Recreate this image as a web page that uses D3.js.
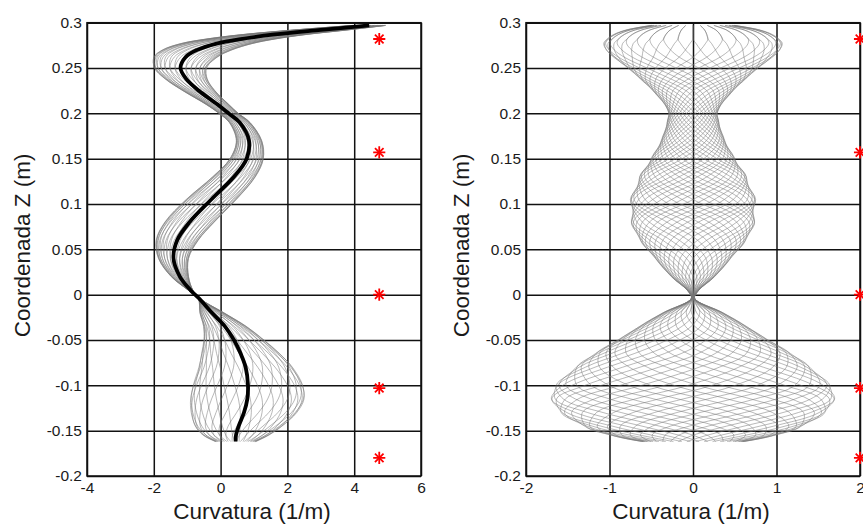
<!DOCTYPE html>
<html>
<head>
<meta charset="utf-8">
<script src="https://cdn.jsdelivr.net/npm/d3@7"></script>
<style>
  body { margin: 0; background: #fff; }
  svg { display: block; }
  text { font-family: "Liberation Sans", Arial, Helvetica, sans-serif; fill: #1a1a1a; }
</style>
</head>
<body>
<svg id="chart" width="863" height="526"></svg>
<script>
// Height along the specimen (m), top to bottom
const zLevels = [0.297, 0.292, 0.287, 0.282, 0.277, 0.27, 0.262, 0.25, 0.238, 0.225,
  0.21, 0.2, 0.19, 0.17, 0.15, 0.13, 0.105, 0.08, 0.06, 0.04,
  0.02, 0.005, -0.004, -0.02, -0.035, -0.05, -0.065, -0.08, -0.1, -0.115,
  -0.13, -0.145, -0.155, -0.162];

// Mean curvature profile (1/m)
const meanCurv = [4.45, 3.0, 1.62, 0.6, -0.12, -0.70, -1.05, -1.2, -1.03, -0.65,
  -0.1, 0.24, 0.57, 0.85, 0.78, 0.40, -0.28, -0.93, -1.30, -1.41,
  -1.22, -0.9, -0.65, -0.26, 0.13, 0.40, 0.60, 0.75, 0.82, 0.80,
  0.70, 0.54, 0.46, 0.45];

// Oscillation amplitude of the curvature around the mean (1/m)
const waveAmp = [0.5, 0.8, 0.95, 1.03, 1.07, 1.04, 0.95, 0.78, 0.63, 0.48,
  0.34, 0.29, 0.31, 0.38, 0.5, 0.64, 0.75, 0.74, 0.63, 0.45,
  0.26, 0.07, 0.02, 0.36, 0.64, 0.9, 1.17, 1.4, 1.64, 1.7,
  1.58, 1.3, 0.98, 0.6];

// Phase lag of the oscillation along z (degrees)
const phaseRight = [0, 0, 0, 0, 2, 5, 10, 25, 45, 70,
  95, 115, 135, 175, 215, 255, 300, 345, 375, 400,
  420, 432, 437, 447, 462, 480, 497, 517, 542, 564,
  587, 612, 630, 647];
const phaseLeft = [0, 0, 0, 0, 1, 2, 3, 6, 10, 15,
  20, 24, 28, 34, 40, 46, 52, 58, 62, 66,
  70, 72, 73, 76, 80, 84, 88, 93, 100, 105,
  110, 116, 120, 124];

// Time instants of the recorded snapshots (degrees of the cycle)
const snapshotsRight = [0, 10, 20, 30, 40, 50, 60, 70, 80, 90, 100, 110,
  120, 130, 140, 150, 160, 170, 180, 190, 200, 210, 220, 230,
  240, 250, 260, 270, 280, 290, 300, 310, 320, 330, 340, 350];
const snapshotsLeft = [0, 12, 24, 36, 48, 60, 72, 84, 96, 108, 120, 132,
  144, 156, 168, 180, 192, 204, 216, 228, 240, 252, 264, 276,
  288, 300, 312, 324, 336, 348];

// Sensor positions (red markers)
const sensorZ = [0.282, 0.157, 0, -0.103, -0.18];
const sensorXLeft = 4.75;
const sensorXRight = 2;

// Axis ticks
const zTicks = [-0.2, -0.15, -0.1, -0.05, 0, 0.05, 0.1, 0.15, 0.2, 0.25, 0.3];
const xTicksLeft = [-4, -2, 0, 2, 4, 6];
const xTicksRight = [-2, -1, 0, 1, 2];

const xLabel = "Curvatura (1/m)";
const yLabel = "Coordenada Z (m)";

const svg = d3.select("#chart");
const plotTop = 22.7, plotBottom = 476;
const y = d3.scaleLinear().domain([-0.2, 0.3]).range([plotBottom, plotTop]);
const rad = Math.PI / 180;

function snapshotCurve(t, offset, phase) {
  return zLevels.map((z, i) => ({
    z,
    v: offset[i] + waveAmp[i] * Math.cos((t - phase[i]) * rad)
  }));
}

function panel(opts) {
  const x = d3.scaleLinear().domain(opts.domain).range([opts.x0, opts.x1]);
  const g = svg.append("g");
  const w = opts.x1 - opts.x0, h = plotBottom - plotTop;

  // grid + tick labels
  const ya = g.append("g").attr("transform", `translate(${opts.x0},0)`)
    .call(d3.axisLeft(y).tickValues(zTicks).tickFormat(d => String(d))
      .tickSize(-w).tickPadding(5));
  const xa = g.append("g").attr("transform", `translate(0,${plotBottom})`)
    .call(d3.axisBottom(x).tickValues(opts.ticks).tickFormat(d => String(d))
      .tickSize(-h).tickPadding(6));
  [ya, xa].forEach(a => {
    a.select(".domain").remove();
    a.selectAll(".tick line").attr("stroke", "#111").attr("stroke-width", 1.5);
    a.selectAll(".tick text").attr("font-size", 15.5).attr("fill", "#1a1a1a")
      .attr("font-family", "Liberation Sans, Arial, sans-serif");
  });
  g.append("rect").attr("x", opts.x0).attr("y", plotTop).attr("width", w).attr("height", h)
    .attr("fill", "none").attr("stroke", "#111").attr("stroke-width", 1.5);

  const line = d3.line().x(d => x(d.v)).y(d => y(d.z)).curve(d3.curveCatmullRom.alpha(0.5));

  g.append("g").selectAll("path").data(opts.snapshots.map(t => snapshotCurve(t, opts.offset, opts.phase)))
    .join("path").attr("d", line).attr("fill", "none")
    .attr("stroke", opts.gray).attr("stroke-width", opts.grayWidth).attr("stroke-opacity", opts.grayOpacity);

  if (opts.mean) {
    g.append("path").datum(zLevels.map((z, i) => ({ z, v: meanCurv[i] })))
      .attr("d", line).attr("fill", "none").attr("stroke", "#000").attr("stroke-width", 3.8);
  }

  // sensors
  const plus = d3.symbol().type(d3.symbolPlus).size(50);
  const times = d3.symbol().type(d3.symbolTimes).size(50);
  const s = g.append("g").selectAll("g").data(sensorZ).join("g")
    .attr("transform", d => `translate(${x(opts.sensorX)},${y(d)})`);
  s.append("path").attr("d", plus).attr("stroke", "#ff0000").attr("stroke-width", 1.8).attr("fill", "none");
  s.append("path").attr("d", times).attr("stroke", "#ff0000").attr("stroke-width", 1.8).attr("fill", "none");

  // axis titles
  g.append("text").attr("x", (opts.x0 + opts.x1) / 2 - 2).attr("y", 519)
    .attr("text-anchor", "middle").attr("font-size", 22.5).text(xLabel);
  g.append("text").attr("transform", `translate(${opts.yTitleX},${(plotTop + plotBottom) / 2 - 4}) rotate(-90)`)
    .attr("text-anchor", "middle").attr("font-size", 22.5).text(yLabel);
}

panel({
  x0: 87, x1: 421, domain: [-4, 6], ticks: xTicksLeft,
  offset: meanCurv, phase: phaseLeft, snapshots: snapshotsLeft,
  gray: "#777", grayWidth: 0.7, grayOpacity: 0.75, mean: true,
  sensorX: sensorXLeft, yTitleX: 30
});
panel({
  x0: 526, x1: 860, domain: [-2, 2], ticks: xTicksRight,
  offset: zLevels.map(() => 0), phase: phaseRight, snapshots: snapshotsRight,
  gray: "#777", grayWidth: 0.65, grayOpacity: 0.8, mean: false,
  sensorX: sensorXRight, yTitleX: 469
});
</script>
</body>
</html>
